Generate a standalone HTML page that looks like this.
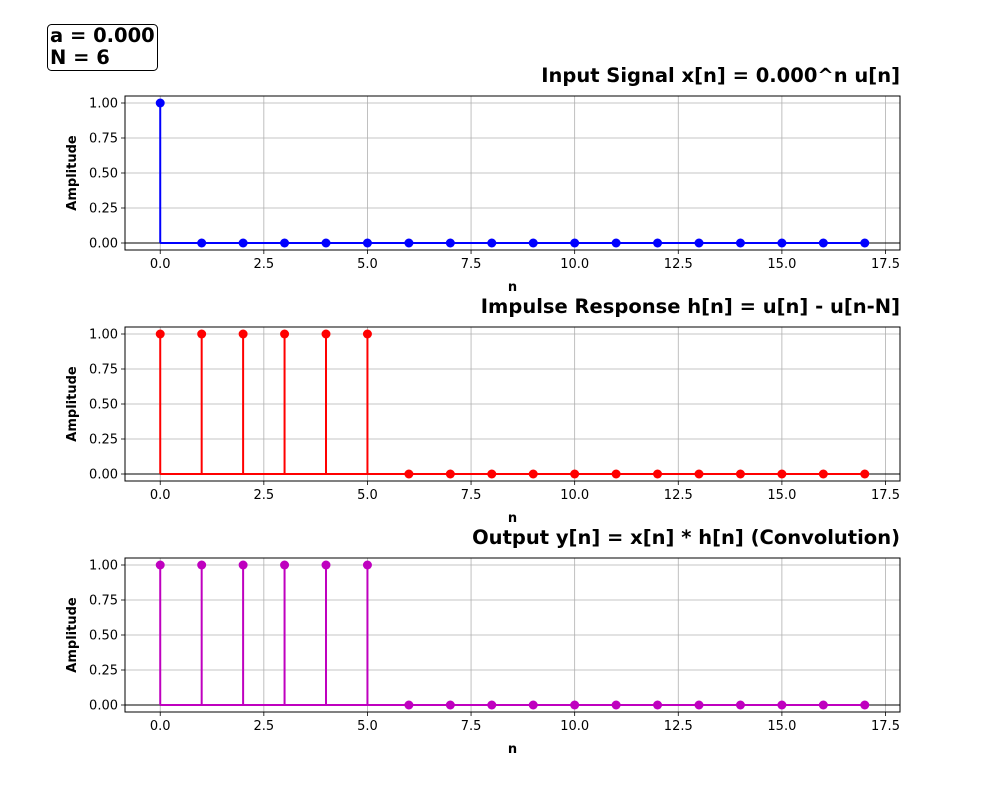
<!DOCTYPE html>
<html><head><meta charset="utf-8"><style>
body{margin:0;background:#fff}
svg{display:block;font-family:"DejaVu Sans","Liberation Sans",sans-serif}
</style></head><body>
<svg id="fig" width="1000" height="800" viewBox="0 0 1000 800">
<rect width="1000" height="800" fill="#fff"/>
<g>
<rect x="47.5" y="24.5" width="110" height="46" rx="4" fill="#fff" stroke="#000" stroke-width="1"/>
<text x="50" y="42" font-size="19.5" font-weight="bold">a = 0.000</text>
<text x="50" y="64" font-size="19.5" font-weight="bold">N = 6</text>
</g>
</svg>
<script>
const nValues=[0,1,2,3,4,5,6,7,8,9,10,11,12,13,14,15,16,17];
const xSignal=[1,0,0,0,0,0,0,0,0,0,0,0,0,0,0,0,0,0];
const hSignal=[1,1,1,1,1,1,0,0,0,0,0,0,0,0,0,0,0,0];
const ySignal=[1,1,1,1,1,1,0,0,0,0,0,0,0,0,0,0,0,0];
const xTicks=[0,2.5,5,7.5,10,12.5,15,17.5];
const xTickLabels=["0.0","2.5","5.0","7.5","10.0","12.5","15.0","17.5"];
const yTicks=[0,0.25,0.5,0.75,1];
const yTickLabels=["0.00","0.25","0.50","0.75","1.00"];
const panels=[
 {title:"Input Signal x[n] = 0.000^n u[n]",data:xSignal,color:"#0000ff",top:96,name:"input-panel"},
 {title:"Impulse Response h[n] = u[n] - u[n-N]",data:hSignal,color:"#ff0000",top:327,name:"impulse-panel"},
 {title:"Output y[n] = x[n] * h[n] (Convolution)",data:ySignal,color:"#bf00bf",top:558,name:"output-panel"}
];
const svg=document.getElementById('fig');
const NS="http://www.w3.org/2000/svg";
function el(tag,attrs,parent){const e=document.createElementNS(NS,tag);for(const k in attrs)e.setAttribute(k,attrs[k]);parent.appendChild(e);return e;}
const L=125,R=900,H=154,xmin=-0.85,xmax=17.85,ymin=-0.05,ymax=1.05;
panels.forEach(p=>{
 const g=el('g',{},svg);
 
 
 const sx=v=>L+(v-xmin)/(xmax-xmin)*(R-L);
 const sy=v=>p.top+H-(v-ymin)/(ymax-ymin)*H;
 xTicks.forEach((t,i)=>{
  const x=sx(t);
  el('line',{x1:x,x2:x,y1:p.top,y2:p.top+H,stroke:"#b0b0b0","stroke-width":0.8},g);
  el('line',{x1:x,x2:x,y1:p.top+H,y2:p.top+H+4,stroke:"#000","stroke-width":0.8},g);
  const t2=el('text',{x:x,y:p.top+H+18,"font-size":13,"text-anchor":"middle"},g);t2.textContent=xTickLabels[i];
  
  
 });
 yTicks.forEach((t,i)=>{
  const y=sy(t);
  el('line',{x1:L,x2:R,y1:y,y2:y,stroke:"#b0b0b0","stroke-width":0.8},g);
  el('line',{x1:L-4,x2:L,y1:y,y2:y,stroke:"#000","stroke-width":0.8},g);
  const t2=el('text',{x:L-7,y:y+4.5,"font-size":13,"text-anchor":"end"},g);t2.textContent=yTickLabels[i];
  
  
 });
 el('line',{x1:L,x2:R,y1:sy(0),y2:sy(0),stroke:"#000","stroke-width":1},g);
 el('line',{x1:sx(nValues[0]),x2:sx(nValues[nValues.length-1]),y1:sy(0),y2:sy(0),stroke:p.color,"stroke-width":2},g);
 nValues.forEach((n,i)=>{
  const v=p.data[i];
  const st=el('line',{x1:sx(n),x2:sx(n),y1:sy(0),y2:sy(v),stroke:p.color,"stroke-width":2},g);
  
  
  const c=el('circle',{cx:sx(n),cy:sy(v),r:4.5,fill:p.color},g);
  
  
 });
 el('rect',{x:L,y:p.top,width:R-L,height:H,fill:"none",stroke:"#000","stroke-width":1},g);
 const tt=el('text',{x:R,y:p.top-14,"font-size":19.5,"font-weight":"bold","text-anchor":"end"},g);tt.textContent=p.title;
 
 
 const xl=el('text',{x:(L+R)/2,y:p.top+H+41,"font-size":13,"font-weight":"bold","text-anchor":"middle"},g);xl.textContent="n";
 
 
 const yl=el('text',{x:0,y:0,"font-size":13,"font-weight":"bold","text-anchor":"middle",transform:`translate(76,${p.top+H/2}) rotate(-90)`},g);yl.textContent="Amplitude";
 
 
});
</script>
</body></html>
